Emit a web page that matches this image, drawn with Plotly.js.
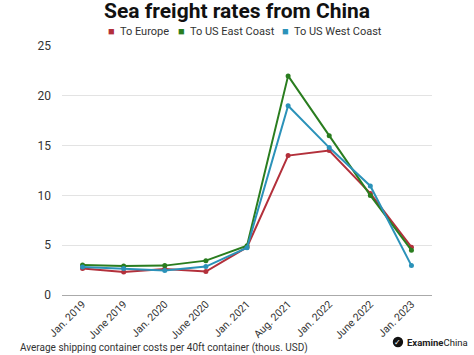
<!DOCTYPE html>
<html><head><meta charset="utf-8">
<script src="https://cdn.plot.ly/plotly-3.0.1.min.js"></script>
<style>html,body{margin:0;padding:0;background:#fff}#c{width:474px;height:355px}</style>
</head><body><div id="c"></div>
<script>
const categories = ["Jan. 2019","June 2019","Jan. 2020","June 2020","Jan. 2021","Aug. 2021","Jan. 2022","June 2022","Jan. 2023"];
const europe = [2.65, 2.3, 2.6, 2.35, 4.8, 14.0, 14.5, 10.2, 4.8];
const usEast = [3.0, 2.9, 2.95, 3.45, 4.95, 22.0, 16.0, 10.0, 4.5];
const usWest = [2.8, 2.65, 2.45, 2.85, 4.75, 19.0, 14.8, 10.95, 2.95];
const seriesNames = ["To Europe","To US East Coast","To US West Coast"];
const colors = ["#b3303b","#2a7d1f","#2b92b9"];
const yTicks = [0,5,10,15,20,25];

const data = [europe, usEast, usWest].map((v,i)=>({
  x: categories, y: v, type:'scatter', mode:'lines+markers', name: seriesNames[i],
  line:{color:colors[i], width:2}, marker:{color:colors[i], size:5}, showlegend:false
}));

const legendX = [0.12, 0.308, 0.59];
const legendAnn = seriesNames.map((n,i)=>({
  text:'<span style="color:'+colors[i]+'">■</span>  '+n, xref:'paper', yref:'paper',
  x:legendX[i], y:1.06, xanchor:'left', yanchor:'middle', showarrow:false,
  font:{size:11, color:'#333'}
}));

const layout = {
  width:474, height:355,
  margin:{l:62, r:42, t:46, b:60},
  paper_bgcolor:'#fff', plot_bgcolor:'#fff',
  font:{family:'Roboto, Arial, sans-serif', color:'#333', size:11},
  title:{text:'<b>Sea freight rates from China</b>', x:0.5, xanchor:'center', y:0.99, yanchor:'top', font:{size:21, color:'#111', family:'Roboto, Arial, sans-serif'}},
  showlegend:false,
  xaxis:{type:'category', range:[-0.5,8.5], tickangle:-45, showgrid:false, zeroline:false, showline:false, ticks:'', tickfont:{size:10.5, color:'#333'}, fixedrange:true},
  yaxis:{range:[0,25], tickvals:yTicks, showgrid:true, gridcolor:'#e3e3e3', gridwidth:1, zeroline:true, zerolinecolor:'#aaa', zerolinewidth:1, showline:false, ticks:'', ticklabelstandoff:10, tickfont:{size:12, color:'#333'}},
  annotations: legendAnn.concat([
    {text:'Average shipping container costs per 40ft container (thous. USD)', xref:'paper', yref:'paper', x:-0.118, y:-0.213, xanchor:'left', yanchor:'middle', showarrow:false, font:{size:10, color:'#333'}},
    {text:'<b>Examine</b>China', xref:'paper', yref:'paper', x:0.927, y:-0.189, xanchor:'left', yanchor:'middle', showarrow:false, font:{size:9.5, color:'#222'}},
    {text:'✓', xref:'paper', yref:'paper', x:0.908, y:-0.189, xanchor:'center', yanchor:'middle', showarrow:false, font:{size:8, color:'#fff'}}
  ]),
  shapes:[
    {type:'circle', xref:'paper', yref:'paper', x0:0.894, x1:0.922, y0:-0.21, y1:-0.168, fillcolor:'#111', line:{width:0}}
  ]
};
Plotly.newPlot('c', data, layout, {displayModeBar:false, staticPlot:true});
</script></body></html>
